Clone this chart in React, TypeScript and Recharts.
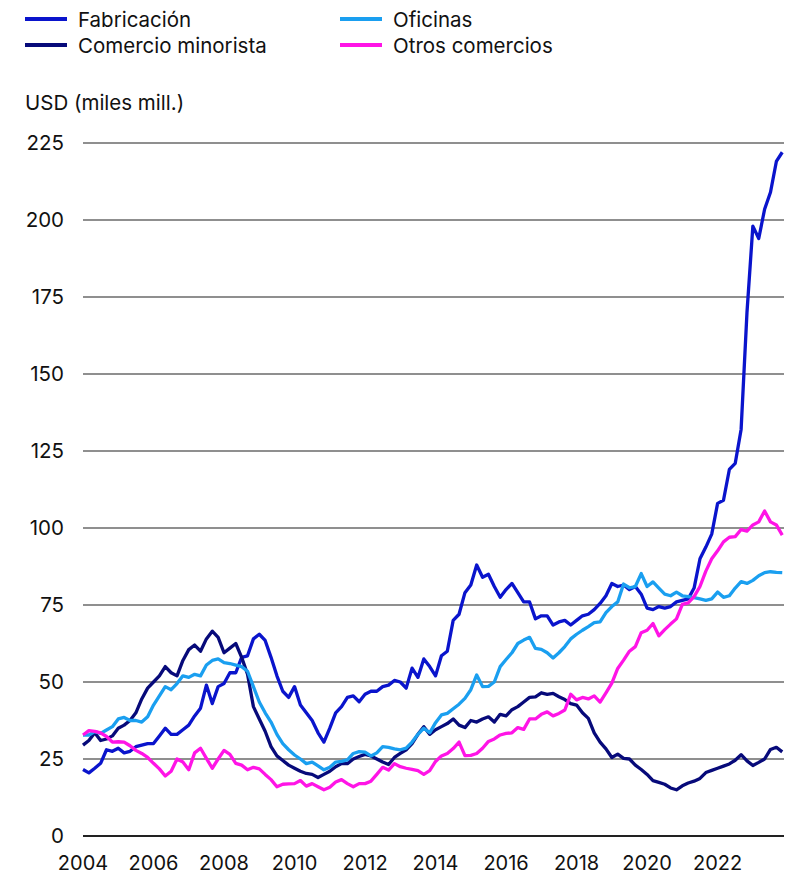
import React from "react"
import { LineChart, Line, XAxis, YAxis, CartesianGrid } from "recharts"

// fechas bimestrales (ene 2004 – nov 2023)
const meses = [
  "2004-01", "2004-03", "2004-05", "2004-07", "2004-09", "2004-11",
  "2005-01", "2005-03", "2005-05", "2005-07", "2005-09", "2005-11",
  "2006-01", "2006-03", "2006-05", "2006-07", "2006-09", "2006-11",
  "2007-01", "2007-03", "2007-05", "2007-07", "2007-09", "2007-11",
  "2008-01", "2008-03", "2008-05", "2008-07", "2008-09", "2008-11",
  "2009-01", "2009-03", "2009-05", "2009-07", "2009-09", "2009-11",
  "2010-01", "2010-03", "2010-05", "2010-07", "2010-09", "2010-11",
  "2011-01", "2011-03", "2011-05", "2011-07", "2011-09", "2011-11",
  "2012-01", "2012-03", "2012-05", "2012-07", "2012-09", "2012-11",
  "2013-01", "2013-03", "2013-05", "2013-07", "2013-09", "2013-11",
  "2014-01", "2014-03", "2014-05", "2014-07", "2014-09", "2014-11",
  "2015-01", "2015-03", "2015-05", "2015-07", "2015-09", "2015-11",
  "2016-01", "2016-03", "2016-05", "2016-07", "2016-09", "2016-11",
  "2017-01", "2017-03", "2017-05", "2017-07", "2017-09", "2017-11",
  "2018-01", "2018-03", "2018-05", "2018-07", "2018-09", "2018-11",
  "2019-01", "2019-03", "2019-05", "2019-07", "2019-09", "2019-11",
  "2020-01", "2020-03", "2020-05", "2020-07", "2020-09", "2020-11",
  "2021-01", "2021-03", "2021-05", "2021-07", "2021-09", "2021-11",
  "2022-01", "2022-03", "2022-05", "2022-07", "2022-09", "2022-11",
  "2023-01", "2023-03", "2023-05", "2023-07", "2023-09", "2023-11",
]

const fabricacion = [
  21.6, 20.5, 22, 23.6, 28, 27.5, 28.5, 27, 27.5, 29, 29.5, 30,
  30, 32.5, 35, 33, 33, 34.5, 36, 39, 41.5, 49, 43, 48.5,
  49.5, 53, 53, 58, 58.5, 64, 65.5, 63.5, 58, 52, 47, 45,
  48.5, 42.5, 40, 37.5, 33.5, 30.5, 35, 40, 42, 45, 45.5, 43.6,
  46, 47, 47, 48.5, 49, 50.5, 50, 48, 54.5, 51.5, 57.5, 55,
  52, 58.5, 60, 70, 72, 79, 81.5, 88, 84, 85, 81, 77.5,
  80, 82, 79, 76, 76, 70.5, 71.5, 71.5, 68.5, 69.5, 70, 68.5,
  70, 71.5, 72, 73.5, 75.5, 78, 82, 81, 81.5, 80, 81, 78.5,
  74, 73.5, 74.5, 74, 74.5, 76, 76.5, 77, 80.5, 90, 93.8, 98,
  108, 109, 119, 121, 132, 170, 198, 194, 203.5, 209, 219, 222,
]

const minorista = [
  29.5, 31, 33.5, 31, 31.5, 32.5, 35, 36, 37.5, 40, 44.5, 48,
  50, 52, 55, 53, 52, 57, 60.5, 62, 60, 64, 66.5, 64.5,
  59.5, 61, 62.5, 58, 52.5, 42, 38, 34, 29, 26, 24.5, 23,
  22, 21, 20.3, 20, 19, 20, 21, 22.5, 23.5, 23.5, 25, 25.8,
  26.5, 26, 25, 24, 23.2, 25.5, 26.8, 28, 30, 33, 35.5, 33,
  34.5, 35.5, 36.5, 38, 36, 35.2, 37.5, 37, 38, 38.7, 37, 39.5,
  39, 41, 42, 43.5, 45, 45.2, 46.5, 46, 46.3, 45.2, 44.3, 43,
  42.5, 40, 38.2, 33.5, 30.5, 28.3, 25.5, 26.6, 25.2, 25, 23, 21.6,
  20, 18, 17.4, 16.8, 15.6, 15, 16.3, 17.2, 17.8, 18.7, 20.6, 21.3,
  22, 22.7, 23.4, 24.6, 26.4, 24.4, 22.9, 23.9, 25, 28.1, 28.8, 27.3,
]

const oficinas = [
  32.8, 32.8, 33.9, 33.3, 34.4, 35.5, 38, 38.5, 37.5, 37.5, 37, 38.7,
  42.5, 45.5, 48.5, 47.5, 49.5, 52, 51.5, 52.5, 52, 55.5, 57, 57.5,
  56.3, 56, 55.5, 55, 53.5, 48.5, 43.5, 40, 37, 33, 30, 28,
  26.3, 25, 23.5, 24, 22.8, 21.5, 22.3, 24, 24.2, 24.7, 26.8, 27.4,
  27.2, 26, 27, 29, 28.8, 28.3, 28, 28.5, 30.5, 33, 35, 33.5,
  36.8, 39.3, 39.8, 41.3, 42.8, 44.7, 47.5, 52.3, 48.5, 48.6, 50, 55,
  57.3, 59.5, 62.5, 63.6, 64.5, 60.9, 60.6, 59.5, 57.8, 59.5, 61.5, 64,
  65.5, 66.8, 68, 69.3, 69.5, 72.5, 74.5, 76, 81.8, 80.6, 81, 85.2,
  81, 82.5, 80.5, 78.5, 78, 79.2, 78, 77.7, 77.4, 77, 76.5, 77,
  79.2, 77.5, 78, 80.5, 82.6, 82, 83, 84.5, 85.5, 85.8, 85.6, 85.5,
]

const otros = [
  32.8, 34.2, 34, 33.5, 32.3, 30.5, 30.6, 30.5, 29.3, 27.8, 26.8, 25.5,
  23.6, 21.8, 19.5, 21, 25, 24, 21.5, 27, 28.5, 25.2, 22, 25,
  27.8, 26.5, 23.6, 23, 21.5, 22.3, 21.8, 20, 18.3, 16, 16.8, 16.9,
  17, 18, 16.2, 17, 16, 15, 15.8, 17.5, 18.3, 17, 16, 17,
  17, 17.8, 20, 22.3, 21.4, 23.5, 22.5, 22, 21.6, 21.2, 20, 21.2,
  24.2, 26, 26.8, 28.4, 30.5, 26.1, 26.2, 26.8, 28.5, 30.7, 31.5, 32.8,
  33.3, 33.5, 35.2, 34.6, 38, 38, 39.5, 40.3, 39, 39.8, 40.9, 46,
  44.2, 45, 44.5, 45.5, 43.5, 46.5, 49.6, 54.4, 57.1, 60, 61.5, 66,
  66.8, 69, 65, 67, 68.8, 70.5, 75.2, 75.7, 77.7, 81, 86, 90,
  92.6, 95.5, 97, 97.2, 99.5, 99, 101, 102, 105.5, 102, 101, 97.7,
]

const anios = ["2004", "2006", "2008", "2010", "2012", "2014", "2016", "2018", "2020", "2022"]
const valoresY = [0, 25, 50, 75, 100, 125, 150, 175, 200, 225]

const series = [
  { key: "fabricacion", name: "Fabricación", color: "#0a14cc" },
  { key: "minorista", name: "Comercio minorista", color: "#070a7a" },
  { key: "oficinas", name: "Oficinas", color: "#1a9ff0" },
  { key: "otros", name: "Otros comercios", color: "#ff14e6" },
]

// meses desde enero 2004
const toT = (s: string) => {
  const [y, m] = s.split("-").map(Number)
  return (y - 2004) * 12 + (m - 1)
}

const data = meses.map((mes, i) => ({
  t: toT(mes),
  fabricacion: fabricacion[i],
  minorista: minorista[i],
  oficinas: oficinas[i],
  otros: otros[i],
}))

const font = "Inter, 'Noto Sans', sans-serif"

function Leyenda() {
  const pos = [
    { left: 25, top: 19 },
    { left: 25, top: 45 },
    { left: 340, top: 19 },
    { left: 340, top: 45 },
  ]
  return (
    <>
      {series.map((s, i) => (
        <div
          key={s.key}
          style={{ position: "absolute", left: pos[i].left, top: pos[i].top - 12, height: 24, display: "flex", alignItems: "center" }}
        >
          <div style={{ width: 42, height: 4, background: s.color }} />
          <span style={{ marginLeft: 11, fontSize: 20.5, color: "#111", whiteSpace: "nowrap" }}>{s.name}</span>
        </div>
      ))}
    </>
  )
}

export default function App() {
  return (
    <div style={{ position: "absolute", left: 0, top: 0, width: 795, height: 876, fontFamily: font, background: "#fff" }}>
      <Leyenda />
      <div style={{ position: "absolute", left: 25, top: 90, fontSize: 20.5, color: "#111" }}>USD (miles mill.)</div>
      <LineChart width={795} height={876} data={data} margin={{ top: 143, right: 11, bottom: 0, left: 0 }}>
        <CartesianGrid vertical={false} stroke="#6a6a6a" strokeWidth={1.3} />
        <XAxis
          dataKey="t"
          type="number"
          domain={[0, 238.6]}
          ticks={anios.map((a) => (Number(a) - 2004) * 12)}
          tickFormatter={(v) => String(2004 + v / 12)}
          height={40}
          tickLine={false}
          axisLine={{ stroke: "#222", strokeWidth: 2 }}
          tickMargin={14}
          tick={{ fontSize: 20, fill: "#111", fontFamily: font }}
          interval={0}
        />
        <YAxis
          type="number"
          domain={[0, 225]}
          ticks={valoresY}
          width={83}
          tickLine={false}
          axisLine={false}
          tickMargin={13}
          tick={{ fontSize: 20.5, fill: "#111", fontFamily: font }}
          interval={0}
        />
        {series.map((s) => (
          <Line
            key={s.key}
            type="linear"
            dataKey={s.key}
            name={s.name}
            stroke={s.color}
            strokeWidth={3.3}
            strokeLinejoin="round"
            dot={false}
            isAnimationActive={false}
          />
        ))}
      </LineChart>
    </div>
  )
}
